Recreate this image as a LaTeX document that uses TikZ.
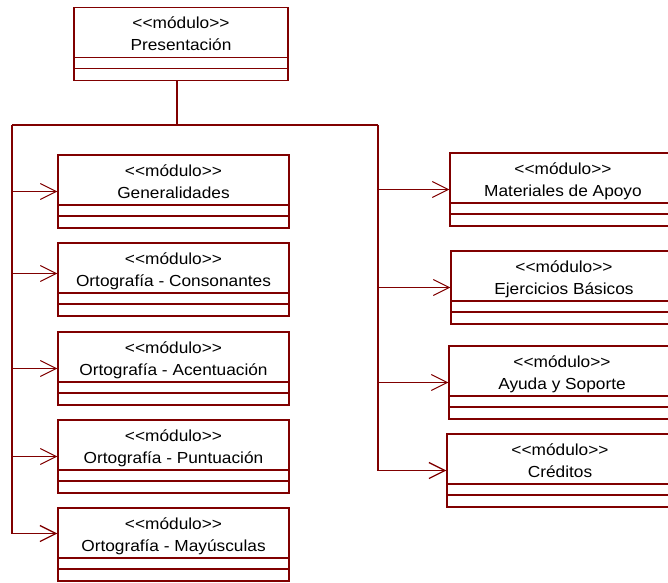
\documentclass[tikz,border=0pt]{standalone}
\usepackage{fontspec}
\newfontfamily\umlfont{Liberation Sans}[FakeStretch=1.08]
\usepackage{xcolor}
\usepackage{tikz}
\usetikzlibrary{arrows.meta, positioning, calc}
\definecolor{Granate}{HTML}{800000}
\newcommand{\estereo}{<<módulo>>}

\begin{document}
\begin{tikzpicture}[x=1pt, y=-1pt,
    modulo/.style={draw=Granate, line width=1.2pt, fill=white, minimum height=73pt,
                   inner sep=0pt, align=center, text depth=20pt,
                   font=\umlfont\fontsize{16}{22}\selectfont,
                   path picture={
                     \draw[Granate, line width=1.2pt]
                       ([yshift=23pt]path picture bounding box.south west) -- ([yshift=23pt]path picture bounding box.south east)
                       ([yshift=12pt]path picture bounding box.south west) -- ([yshift=12pt]path picture bounding box.south east);
                   }},
    modizq/.style={modulo, minimum width=231pt},
    moddcha/.style={modulo, minimum width=226pt},
    tronco/.style={draw=Granate, line width=2.2pt},
    linea/.style={draw=Granate, line width=1.3pt},
    flecha/.style={draw=Granate, line width=1pt, -{Straight Barb[length=16pt, width=16pt]}}
  ]
    \clip (0,0) rectangle (668,582);

    \node[modulo, minimum width=214pt] (pres) at (181,44) {\estereo\\Presentación};

    \node[modizq] (gen)  at (173.5,191.5) {\estereo\\Generalidades};
    \node[modizq] (cons) at (173.5,279.5) {\estereo\\Ortografía - Consonantes};
    \node[modizq] (acen) at (173.5,368.5) {\estereo\\Ortografía - Acentuación};
    \node[modizq] (punt) at (173.5,456.5) {\estereo\\Ortografía - Puntuación};
    \node[modizq] (mayu) at (173.5,544.5) {\estereo\\Ortografía - Mayúsculas};

    \node[moddcha] (mat)   at (563,189.5) {\estereo\\Materiales de Apoyo};
    \node[moddcha] (ejer)  at (564,287.5) {\estereo\\Ejercicios Básicos};
    \node[moddcha] (ayuda) at (562,382.5) {\estereo\\Ayuda y Soporte};
    \node[moddcha] (cred)  at (560,470.5) {\estereo\\Créditos};

    % buses
    \coordinate (bus)  at (177,125);
    \coordinate (busL) at (12,125);
    \coordinate (busR) at (378,125);
    \coordinate (cons-in) at ([yshift=6pt]cons.west);
    \coordinate (mayu-in) at ([yshift=11pt]mayu.west);

    \draw[tronco] (bus |- pres.south) -- (bus);
    \draw[linea] (busL) -- (busR);

    \draw[flecha, line width=1.3pt] (busL) |- (mayu-in);
    \draw[flecha] (busL |- cons-in) -- (cons-in);
    \foreach \m in {gen, acen, punt}
      \draw[flecha] (busL |- \m.west) -- (\m.west);

    \draw[flecha, line width=1.3pt] (busR) |- (cred.west);
    \foreach \m in {mat, ejer, ayuda}
      \draw[flecha] (busR |- \m.west) -- (\m.west);
  \end{tikzpicture}
\end{document}
